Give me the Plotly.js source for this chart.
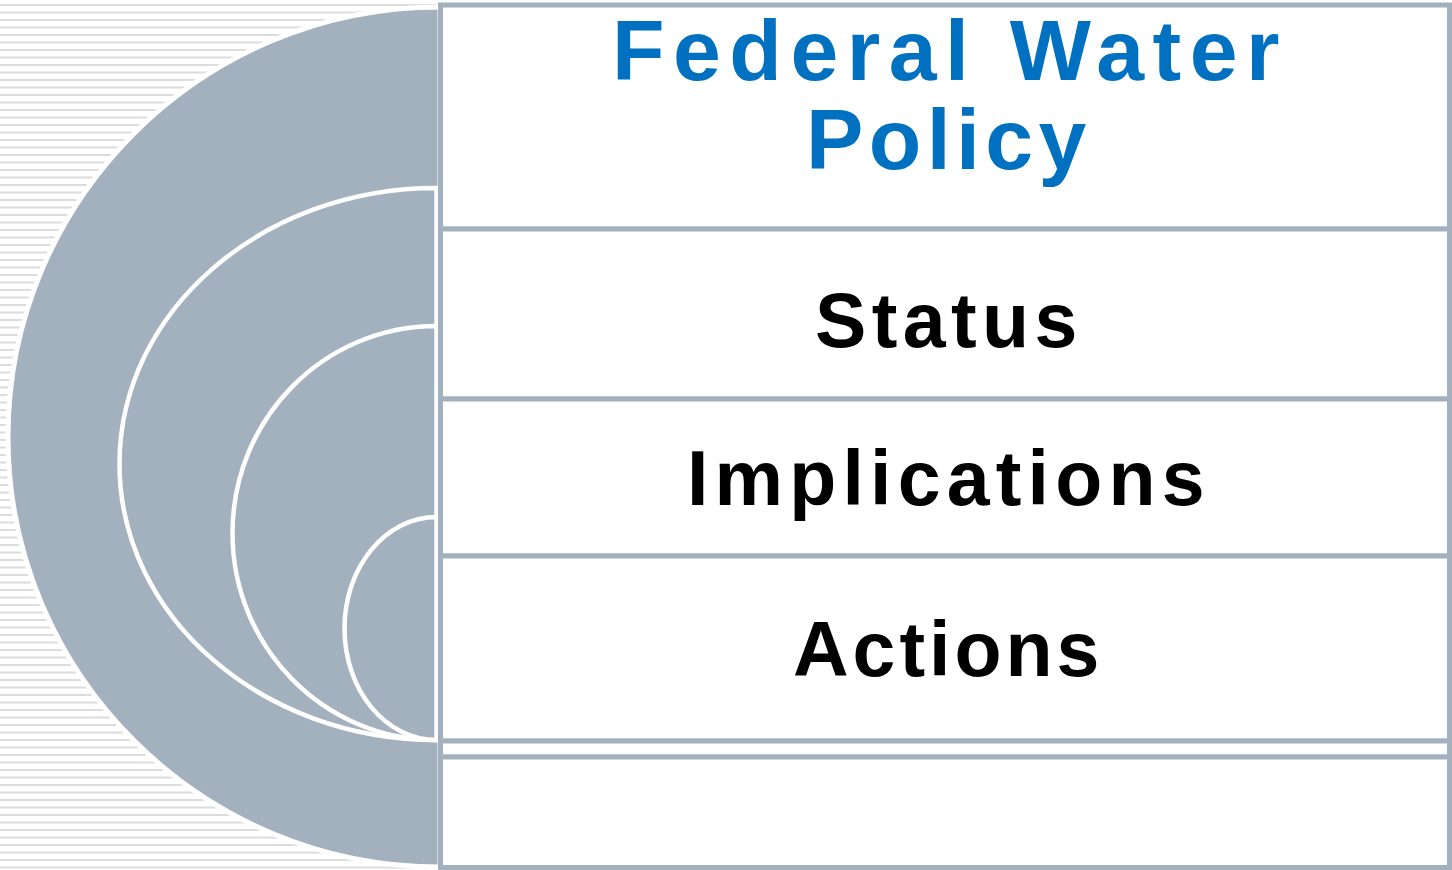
<!DOCTYPE html>
<html>
<head>
<meta charset="utf-8">
<script src="https://cdn.plot.ly/plotly-3.0.1.min.js"></script>
<style>html,body{margin:0;padding:0;background:#fff;}#chart{width:1452px;height:870px;}</style>
</head>
<body>
<div id="chart"></div>
<script>
// ---- content ----
const titleLines = ["Federal Water", "Policy"];
const rowLabels = ["Status", "Implications", "Actions", "", ""];

// ---- geometry and style (pixel space of the figure) ----
const W = 1452, H = 870;
const GREY = "#A3B1BF", BLUE = "#0070C0", STRIPE = "#DCDCDC";
const FONT = "Liberation Sans, Arial, sans-serif";
const boxLeft = 440.5, boxRight = 1449.5;
const boxEdges = [5, 229, 399, 556, 741, 757, 867.5]; // title box + row boxes
const textCenterX = 946;
const titleCenters = [50, 139];
const titleSpacing = [8.5, 5.4];
const rowCenters = [320, 478, 649];
const rowSpacing = [5.4, 6.2, 4];
const arcs = [ // [cx, top, bottom, rx]
  [440, 7, 867, 432],
  [436.5, 188, 740, 317],
  [436.5, 326, 740, 204],
  [436.5, 517, 740, 92]
];

function halfEllipse(cx, top, bottom, rx) {
  const k = 0.5523;
  const cy = (top + bottom) / 2, ry = (bottom - top) / 2;
  return `M ${cx},${top} C ${cx - k*rx},${top} ${cx - rx},${cy - k*ry} ${cx - rx},${cy} ` +
         `C ${cx - rx},${cy + k*ry} ${cx - k*rx},${bottom} ${cx},${bottom} Z`;
}
function spaced(t, px) { return `<span style="letter-spacing:${px}px">${t}</span>`; }

const shapes = [];
// striped background on the left
for (let y = 5; y < H - 2; y += 7.5) {
  shapes.push({type: "line", x0: 0, x1: 440, y0: y, y1: y, line: {color: STRIPE, width: 2.2}});
}
// nested half-ellipses
arcs.forEach((a, i) => {
  shapes.push({type: "path", path: halfEllipse(a[0], a[1], a[2], a[3]),
    fillcolor: GREY, line: {color: "#FFFFFF", width: i === 0 ? 5 : 4.5}});
});
// boxes
for (let i = 0; i < boxEdges.length - 1; i++) {
  shapes.push({type: "rect", x0: boxLeft, x1: boxRight, y0: boxEdges[i], y1: boxEdges[i + 1],
    fillcolor: "#FFFFFF", line: {color: GREY, width: 5}});
}

const annotations = [];
titleLines.forEach((t, i) => {
  annotations.push({x: textCenterX + titleSpacing[i] / 2, y: titleCenters[i], text: spaced(t, titleSpacing[i]),
    xref: "x", yref: "y", showarrow: false, xanchor: "center", yanchor: "middle",
    font: {family: FONT, size: 86, color: BLUE, weight: "bold"}});
});
rowCenters.forEach((yc, i) => {
  annotations.push({x: textCenterX + rowSpacing[i] / 2, y: yc, text: spaced(rowLabels[i], rowSpacing[i]),
    xref: "x", yref: "y", showarrow: false, xanchor: "center", yanchor: "middle",
    font: {family: FONT, size: 77, color: "#000000", weight: "bold"}});
});

const layout = {
  width: W, height: H,
  margin: {l: 0, r: 0, t: 0, b: 0, pad: 0},
  paper_bgcolor: "#FFFFFF", plot_bgcolor: "#FFFFFF",
  showlegend: false,
  xaxis: {range: [0, W], visible: false, fixedrange: true},
  yaxis: {range: [H, 0], visible: false, fixedrange: true},
  shapes: shapes,
  annotations: annotations
};
Plotly.newPlot("chart", [], layout, {displayModeBar: false, staticPlot: true});
</script>
</body>
</html>
